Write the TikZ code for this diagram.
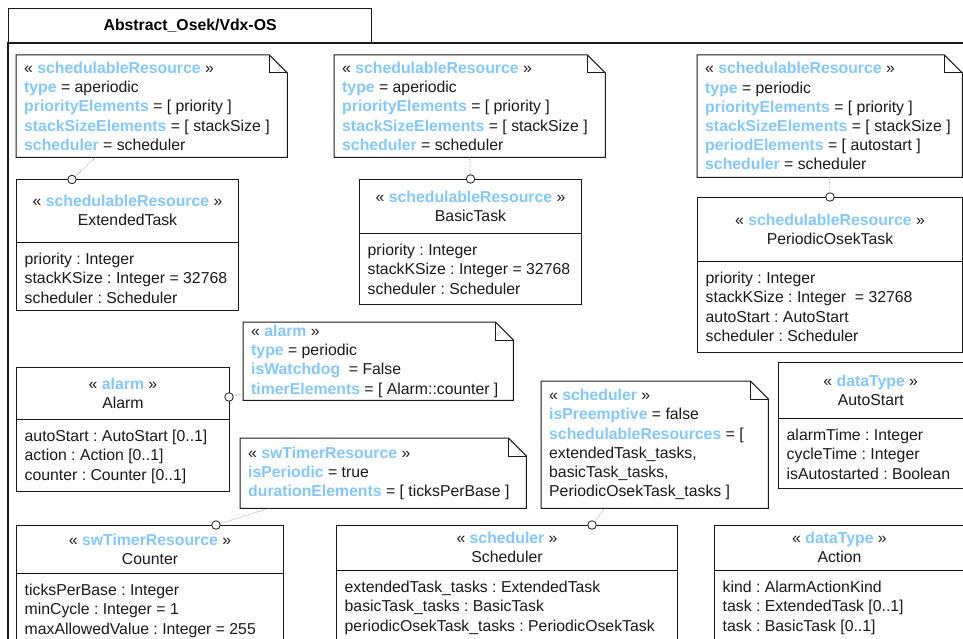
\documentclass[tikz,border=0pt]{standalone}
\usepackage{fontspec}
\setmainfont{Liberation Sans}
\usetikzlibrary{positioning}
\frenchspacing

\definecolor{ink}{RGB}{25,25,25}
\definecolor{kwblue}{RGB}{128,200,255}

% stereotype keywords and tagged values
\newcommand\kw[1]{\textbf{\textcolor{kwblue}{#1}}}
\newcommand\stereo[1]{« \kw{#1} »}
% comment box with folded corner
\newcommand\dogear[1]{%
  \draw[outline] (#1.north west) -- ([xshift=-18pt]#1.north east) -- ([yshift=-18pt]#1.north east)
    -- (#1.south east) -- (#1.south west) -- cycle;
  \draw[outline] ([xshift=-18pt]#1.north east) |- ([yshift=-18pt]#1.north east);}

\tikzset{
  outline/.style={draw=ink, line width=1pt},
  box/.style={outline, anchor=north west, inner sep=0pt},
  notebox/.style={anchor=north west, inner sep=0pt},
  head/.style={align=center, inner sep=0pt, text=ink},
  attrs/.style={align=left, anchor=north west, inner sep=0pt, text=ink},
  notetext/.style={align=left, anchor=west, inner sep=0pt, text=ink},
  port/.style={circle, draw=ink, fill=white, line width=0.8pt, minimum size=8.5pt, inner sep=0pt},
  link/.style={densely dotted, draw=gray, line width=0.6pt}
}

\begin{document}
\begin{tikzpicture}[x=1pt, y=-1pt, font=\fontsize{15.8}{19.2}\selectfont]
  \useasboundingbox (0,0) rectangle (963,639);
  \clip (0,0) rectangle (963,639);

  % package frame
  \draw[ink, line width=1.2pt] (8,43) rectangle (990,700);
  \node[box, line width=1.2pt, minimum width=363pt, minimum height=35pt] (title) at (8,8) {\textbf{Abstract\_Osek/Vdx-OS}};

  % ExtendedTask
  \node[notebox, minimum width=271pt, minimum height=102pt] (extNote) at (16,55) {};
  \dogear{extNote}
  \node[notetext] (extNoteText) at ([xshift=8pt]extNote.west) {\stereo{schedulableResource}\\
    \kw{type} = aperiodic\\ \kw{priorityElements} = [ priority ]\\
    \kw{stackSizeElements} = [ stackSize ]\\ \kw{scheduler} = scheduler};
  \node[box, minimum width=222pt, minimum height=130.5pt] (extTask) at (16,179.5) {};
  \draw[outline] ([yshift=-62.5pt]extTask.north west) -- ([yshift=-62.5pt]extTask.north east);
  \node[head] (extHead) at ([yshift=-31.25pt]extTask.north) {\stereo{schedulableResource}\\ ExtendedTask};
  \node[attrs] (extAttrs) at ([shift={(8.5pt,-73.5pt)}]extTask.north west) {priority : Integer\\
    stackKSize : Integer = 32768\\ scheduler : Scheduler};

  % BasicTask
  \node[notebox, minimum width=271pt, minimum height=102pt] (basicNote) at (334,55) {};
  \dogear{basicNote}
  \node[notetext] (basicNoteText) at ([xshift=8pt]basicNote.west) {\stereo{schedulableResource}\\
    \kw{type} = aperiodic\\ \kw{priorityElements} = [ priority ]\\
    \kw{stackSizeElements} = [ stackSize ]\\ \kw{scheduler} = scheduler};
  \node[box, minimum width=222pt, minimum height=125pt] (basicTask) at (359,179) {};
  \draw[outline] ([yshift=-54pt]basicTask.north west) -- ([yshift=-54pt]basicTask.north east);
  \node[head] (basicHead) at ([yshift=-27pt]basicTask.north) {\stereo{schedulableResource}\\ BasicTask};
  \node[attrs] (basicAttrs) at ([shift={(8.5pt,-65pt)}]basicTask.north west) {priority : Integer\\
    stackKSize : Integer = 32768\\ scheduler : Scheduler};

  % PeriodicOsekTask
  \node[notebox, minimum width=265pt, minimum height=122pt] (periodicNote) at (697,55) {};
  \dogear{periodicNote}
  \node[notetext] (periodicNoteText) at ([xshift=8pt]periodicNote.west) {\stereo{schedulableResource}\\
    \kw{type} = periodic\\ \kw{priorityElements} = [ priority ]\\
    \kw{stackSizeElements} = [ stackSize ]\\ \kw{periodElements} = [ autostart ]\\
    \kw{scheduler} = scheduler};
  \node[box, minimum width=265pt, minimum height=155pt] (periodicTask) at (697,197) {};
  \draw[outline] ([yshift=-64pt]periodicTask.north west) -- ([yshift=-64pt]periodicTask.north east);
  \node[head] (periodicHead) at ([yshift=-32pt]periodicTask.north) {\stereo{schedulableResource}\\ PeriodicOsekTask};
  \node[attrs] (periodicAttrs) at ([shift={(8.5pt,-75pt)}]periodicTask.north west) {priority : Integer\\
    stackKSize : Integer \ = 32768\\ autoStart : AutoStart\\ scheduler : Scheduler};

  % Alarm
  \node[notebox, minimum width=270pt, minimum height=78pt] (alarmNote) at (243,322) {};
  \dogear{alarmNote}
  \node[notetext] (alarmNoteText) at ([xshift=8pt]alarmNote.west) {\stereo{alarm}\\
    \kw{type} = periodic\\ \kw{isWatchdog} \ = False\\ \kw{timerElements} = [ Alarm::counter ]};
  \node[box, minimum width=213pt, minimum height=124pt] (alarm) at (16,367) {};
  \draw[outline] ([yshift=-52pt]alarm.north west) -- ([yshift=-52pt]alarm.north east);
  \node[head] (alarmHead) at ([yshift=-26pt]alarm.north) {\stereo{alarm}\\ Alarm};
  \node[attrs] (alarmAttrs) at ([shift={(8.5pt,-63pt)}]alarm.north west) {autoStart : AutoStart [0..1]\\
    action : Action [0..1]\\ counter : Counter [0..1]};

  % Counter
  \node[notebox, minimum width=286pt, minimum height=70pt] (timerNote) at (240,438) {};
  \dogear{timerNote}
  \node[notetext] (timerNoteText) at ([xshift=8pt]timerNote.west) {\stereo{swTimerResource}\\
    \kw{isPeriodic} = true\\ \kw{durationElements} = [ ticksPerBase ]};
  \node[box, minimum width=267pt, minimum height=200pt] (counter) at (16,525) {};
  \draw[outline] ([yshift=-48pt]counter.north west) -- ([yshift=-48pt]counter.north east);
  \node[head] (counterHead) at ([yshift=-24pt]counter.north) {\stereo{swTimerResource}\\ Counter};
  \node[attrs] (counterAttrs) at ([shift={(8.5pt,-59pt)}]counter.north west) {ticksPerBase : Integer\\
    minCycle : Integer = 1\\ maxAllowedValue : Integer = 255};

  % Scheduler
  \node[notebox, minimum width=227pt, minimum height=127pt] (schedNote) at (541,381) {};
  \dogear{schedNote}
  \node[notetext] (schedNoteText) at ([xshift=8pt]schedNote.west) {\stereo{scheduler}\\
    \kw{isPreemptive} = false\\ \kw{schedulableResources} = [\\ extendedTask\_tasks,\\
    basicTask\_tasks,\\ PeriodicOsekTask\_tasks ]};
  \node[box, minimum width=341pt, minimum height=200pt] (scheduler) at (336,525) {};
  \draw[outline] ([yshift=-45pt]scheduler.north west) -- ([yshift=-45pt]scheduler.north east);
  \node[head] (schedHead) at ([yshift=-22.5pt]scheduler.north) {\stereo{scheduler}\\ Scheduler};
  \node[attrs] (schedAttrs) at ([shift={(8.5pt,-56pt)}]scheduler.north west) {extendedTask\_tasks : ExtendedTask\\
    basicTask\_tasks : BasicTask\\ periodicOsekTask\_tasks : PeriodicOsekTask};

  % data types
  \node[box, minimum width=184.5pt, minimum height=126pt] (autoStart) at (778,362) {};
  \draw[outline] ([yshift=-56pt]autoStart.north west) -- ([yshift=-56pt]autoStart.north east);
  \node[head] (autoStartHead) at ([yshift=-28pt]autoStart.north) {\stereo{dataType}\\ AutoStart};
  \node[attrs] (autoStartAttrs) at ([shift={(8.5pt,-67pt)}]autoStart.north west) {alarmTime : Integer\\
    cycleTime : Integer\\ isAutostarted : Boolean};
  \node[box, minimum width=250pt, minimum height=200pt] (action) at (714,525) {};
  \draw[outline] ([yshift=-45pt]action.north west) -- ([yshift=-45pt]action.north east);
  \node[head] (actionHead) at ([yshift=-22.5pt]action.north) {\stereo{dataType}\\ Action};
  \node[attrs] (actionAttrs) at ([shift={(8.5pt,-56pt)}]action.north west) {kind : AlarmActionKind\\
    task : ExtendedTask [0..1]\\ task : BasicTask [0..1]};

  % comment anchors
  \node[port] (extPort) at (72,179.5) {};
  \node[port] (basicPort) at (basicTask.north) {};
  \node[port] (periodicPort) at (periodicTask.north) {};
  \node[port] (alarmPort) at (229,397) {};
  \node[port] (counterPort) at (216,525) {};
  \node[port] (schedPort) at (592,525) {};
  \coordinate (extNoteEnd) at (96,157);
  \coordinate (alarmNoteEnd) at (243,394);
  \coordinate (timerNoteEnd) at (270,508);
  \coordinate (schedNoteEnd) at (605,508);

  \draw[link] (extNoteEnd) -- (extPort);
  \draw[link] (basicNote.south) -- (basicPort);
  \draw[link] (periodicNote.south) -- (periodicPort);
  \draw[link] (alarmNoteEnd) -- (alarmPort);
  \draw[link] (timerNoteEnd) -- (counterPort);
  \draw[link] (schedNoteEnd) -- (schedPort);
\end{tikzpicture}
\end{document}
